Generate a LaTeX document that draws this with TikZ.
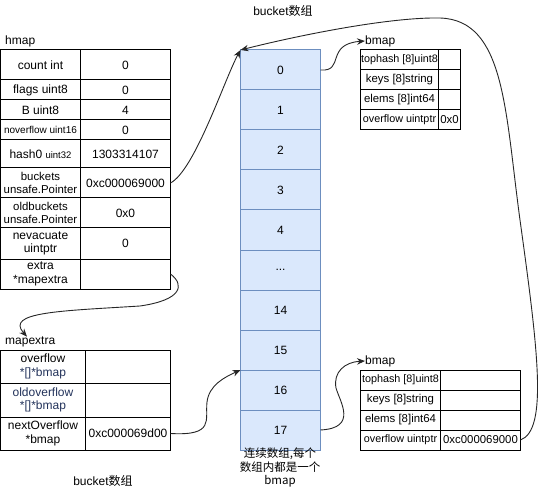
\documentclass[tikz,border=0pt]{standalone}
\usepackage{fontspec}
\setmainfont{Liberation Sans}
\newfontfamily\cjk{Noto Sans CJK SC}
\usepackage{tikz}
\usetikzlibrary{positioning, arrows.meta}
\definecolor{slotfill}{HTML}{DAE8FC}
\definecolor{slotline}{HTML}{6C8EBF}
\definecolor{ptrtext}{HTML}{22325A}

\begin{document}
\begin{tikzpicture}[
    x = 1pt, y = -1pt,
    every node/.style = {font = \fontsize{12}{13.5}\selectfont},
    cell/.style = {draw, line width = 1pt, rectangle, inner sep = 0, outer sep = 0,
      align = center, minimum height = 20},
    small/.style = {font = \fontsize{11.4}{13.5}\selectfont},
    tiny/.style = {font = \fontsize{10.8}{13}\selectfont},
    slot/.style = {draw = slotline, fill = slotfill, line width = 1pt, rectangle,
      inner sep = 0, outer sep = 0, minimum width = 80, minimum height = 40},
    title/.style = {inner sep = 0, anchor = west},
    link/.style = {draw = black!85, line width = 0.9pt, -{Stealth[length = 8pt, width = 6.5pt]}}
  ]
  \useasboundingbox (0,0) rectangle (544,492);

  % hmap
  \node[title] (hmaplbl) at (5,41) {hmap};
  \node[cell, minimum width = 80, minimum height = 30] (hcount) at (40.5,65) {count int};
  \node[cell, minimum width = 90, minimum height = 30, right = 0 of hcount] (hcountv) {0};
  \node[cell, minimum width = 80, below = 0 of hcount] (hflags) {flags uint8};
  \node[cell, minimum width = 90, right = 0 of hflags] (hflagsv) {0};
  \node[cell, minimum width = 80, below = 0 of hflags] (hb) {B uint8};
  \node[cell, minimum width = 90, right = 0 of hb] (hbv) {4};
  \node[cell, minimum width = 80, below = 0 of hb, font = \fontsize{10}{11}\selectfont]
    (hnover) {noverflow uint16};
  \node[cell, minimum width = 90, right = 0 of hnover] (hnoverv) {0};
  \node[cell, minimum width = 80, minimum height = 28, below = 0 of hnover]
    (hhash) {hash0 {\fontsize{9.5}{11}\selectfont uint32}};
  \node[cell, minimum width = 90, minimum height = 28, right = 0 of hhash] (hhashv) {1303314107};
  \node[cell, minimum width = 80, minimum height = 30, below = 0 of hhash, small]
    (hbuckets) {buckets\\unsafe.Pointer};
  \node[cell, minimum width = 90, minimum height = 30, right = 0 of hbuckets] (hbucketsv) {0xc000069000};
  \node[cell, minimum width = 80, minimum height = 30, below = 0 of hbuckets, small]
    (holdbuckets) {oldbuckets\\unsafe.Pointer};
  \node[cell, minimum width = 90, minimum height = 30, right = 0 of holdbuckets] (holdbucketsv) {0x0};
  \node[cell, minimum width = 80, minimum height = 31, below = 0 of holdbuckets]
    (hnevac) {nevacuate\\uintptr};
  \node[cell, minimum width = 90, minimum height = 31, right = 0 of hnevac] (hnevacv) {0};
  \node[cell, minimum width = 80, minimum height = 30, below = 0 of hnevac]
    (hextra) {extra\\*mapextra};
  \node[cell, minimum width = 90, minimum height = 30, right = 0 of hextra] (hextrav) {};

  % mapextra
  \node[title] (mxlbl) at (5,342) {mapextra};
  \node[cell, minimum width = 85, minimum height = 33] (mxover) at (43,366.5)
    {overflow\\\textcolor{ptrtext}{*[]*bmap}};
  \node[cell, minimum width = 85, minimum height = 33, right = 0 of mxover] (mxoverv) {};
  \node[cell, minimum width = 85, minimum height = 34, below = 0 of mxover, text = ptrtext]
    (mxold) {oldoverflow\\*[]*bmap};
  \node[cell, minimum width = 85, minimum height = 34, right = 0 of mxold] (mxoldv) {};
  \node[cell, minimum width = 85, minimum height = 33, below = 0 of mxold]
    (mxnext) {nextOverflow\\*bmap};
  \node[cell, minimum width = 85, minimum height = 33, right = 0 of mxnext] (mxnextv) {0xc000069d00};

  % bucket array
  \node (toptitle) at (283,11) {bucket{\cjk 数组}};
  \node[slot] (b0) at (280.5,70) {0};
  \node[slot, below = 0 of b0] (b1) {1};
  \node[slot, below = 0 of b1] (b2) {2};
  \node[slot, below = 0 of b2] (b3) {3};
  \node[slot, below = 0 of b3] (b4) {4};
  \node[slot, below = 0 of b4] (bdots) {...};
  \node[slot, below = 0 of bdots] (b14) {14};
  \node[slot, below = 0 of b14] (b15) {15};
  \node[slot, below = 0 of b15] (b16) {16};
  \node[slot, below = 0 of b16] (b17) {17};
  \node[align = center, anchor = north, inner sep = 0, font = \cjk\fontsize{11.5}{13.5}\selectfont]
    (slotnote) at (280,448) {连续数组,每个\\数组内都是一个\\bmap};
  \node (bottomtitle) at (103,481) {bucket{\cjk 数组}};

  % bmap of slot 0
  \node[title] (bmlbl) at (365,41) {bmap};
  \node[cell, minimum width = 78, tiny] (bmtophash) at (399.5,60) {tophash [8]uint8};
  \node[cell, minimum width = 22, right = 0 of bmtophash] (bmtophashv) {};
  \node[cell, minimum width = 78, below = 0 of bmtophash, small] (bmkeys) {keys [8]string};
  \node[cell, minimum width = 22, right = 0 of bmkeys] (bmkeysv) {};
  \node[cell, minimum width = 78, below = 0 of bmkeys, small] (bmelems) {elems [8]int64};
  \node[cell, minimum width = 22, right = 0 of bmelems] (bmelemsv) {};
  \node[cell, minimum width = 78, below = 0 of bmelems, tiny] (bmover) {overflow uintptr};
  \node[cell, minimum width = 22, right = 0 of bmover, small] (bmoverv) {0x0};

  % bmap of slot 17
  \node[title] (oblbl) at (365,361) {bmap};
  \node[cell, minimum width = 80, tiny] (obtophash) at (400.5,380) {tophash [8]uint8};
  \node[cell, minimum width = 80, right = 0 of obtophash] (obtophashv) {};
  \node[cell, minimum width = 80, below = 0 of obtophash, small] (obkeys) {keys [8]string};
  \node[cell, minimum width = 80, right = 0 of obkeys] (obkeysv) {};
  \node[cell, minimum width = 80, below = 0 of obkeys, small] (obelems) {elems [8]int64};
  \node[cell, minimum width = 80, right = 0 of obelems] (obelemsv) {};
  \node[cell, minimum width = 80, below = 0 of obelems, tiny] (obover) {overflow uintptr};
  \node[cell, minimum width = 80, right = 0 of obover, small] (oboverv) {0xc000069000};

  % Links
  \draw[link] (hbucketsv.east) .. controls (195,170) and (225,78) .. (b0.north west);
  \draw[link] (hextrav.east) .. controls (185,285) and (182,300) .. (140,306)
    .. controls (60,311) and (5,312) .. (mxlbl.north -| 27,0);
  \draw[link] (mxnextv.east) .. controls (215,436) and (205,420) .. (207,402)
    .. controls (209,385) and (225,377) .. (b16.north west);
  \draw[link] (b0.east) .. controls (345,72) and (325,44) .. (bmlbl.west);
  \draw[link] (b17.east) .. controls (358,428) and (340,402) .. (336,388)
    .. controls (333,372) and (345,362) .. (oblbl.west);
  \draw[link] (oboverv.east) .. controls (548,430) and (538,350) .. (520,220)
    .. controls (505,110) and (505,20) .. (440,18)
    .. controls (390,17) and (300,35) .. (b0.north west);
\end{tikzpicture}
\end{document}
